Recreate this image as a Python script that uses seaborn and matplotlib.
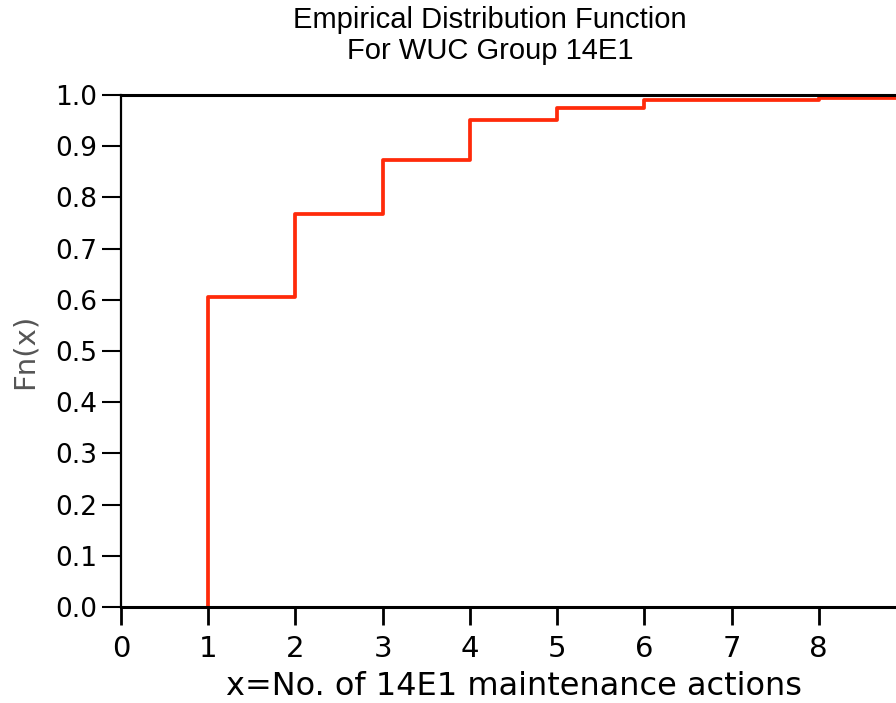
import numpy as np
import pandas as pd
import matplotlib
matplotlib.use('Agg')
import matplotlib.pyplot as plt
import seaborn as sns

# step values of the empirical CDF
actions = [1, 2, 3, 4, 5, 6, 8]
fn_values = [0.605, 0.768, 0.873, 0.951, 0.975, 0.990, 0.995]
x_ticks = [0, 1, 2, 3, 4, 5, 6, 7, 8]
y_ticks = [0.0, 0.1, 0.2, 0.3, 0.4, 0.5, 0.6, 0.7, 0.8, 0.9, 1.0]

title = "Empirical Distribution Function\nFor WUC Group 14E1"
x_label = "x=No. of 14E1 maintenance actions"
y_label = "Fn(x)"

sns.set_style("white")
plt.rcParams['font.family'] = ['DejaVu Sans']
plt.rcParams['text.color'] = 'black'

x_max = 9
# vertical jump from 0 at the first value, last step runs off the right edge
steps = pd.DataFrame({
    'x': [actions[0]] + actions + [x_max],
    'fn': [0.0] + fn_values + [fn_values[-1]],
})

fig = plt.figure(figsize=(8.96, 7.03), dpi=100)
ax = fig.add_axes([121 / 896, 1 - 607 / 703, 785 / 896, 512 / 703])

sns.lineplot(data=steps, x='x', y='fn', drawstyle='steps-post',
             estimator=None, sort=False, color='#ff2a0a', linewidth=2.7,
             ax=ax, legend=False)

ax.set_xlim(0, x_max)
ax.set_ylim(0, 1)
ax.set_xticks(x_ticks)
ax.set_yticks(y_ticks)
ax.set_yticklabels([f"{v:.1f}" for v in y_ticks])

for side in ['top', 'bottom']:
    ax.spines[side].set_linewidth(2.2)
    ax.spines[side].set_color('black')
ax.spines['left'].set_linewidth(1.6)
ax.spines['left'].set_color('black')
ax.spines['right'].set_visible(False)

ax.tick_params(axis='y', direction='out', length=14, width=1.5, pad=3,
               labelsize=19, left=True, colors='black')
ax.tick_params(axis='x', direction='out', length=13, width=2, pad=7,
               labelsize=21, bottom=True, colors='black')

ax.set_xlabel(x_label, fontsize=23, color='black', labelpad=6)
ax.set_ylabel(y_label, fontsize=21, color='#555555', labelpad=12)

fig.text(490 / 896, 1 - 6 / 703, title, ha='center', va='top', fontsize=21,
         color='black', family=['Liberation Sans Narrow', 'Liberation Sans'],
         linespacing=1.15)

fig.savefig('out.png', dpi=100)
